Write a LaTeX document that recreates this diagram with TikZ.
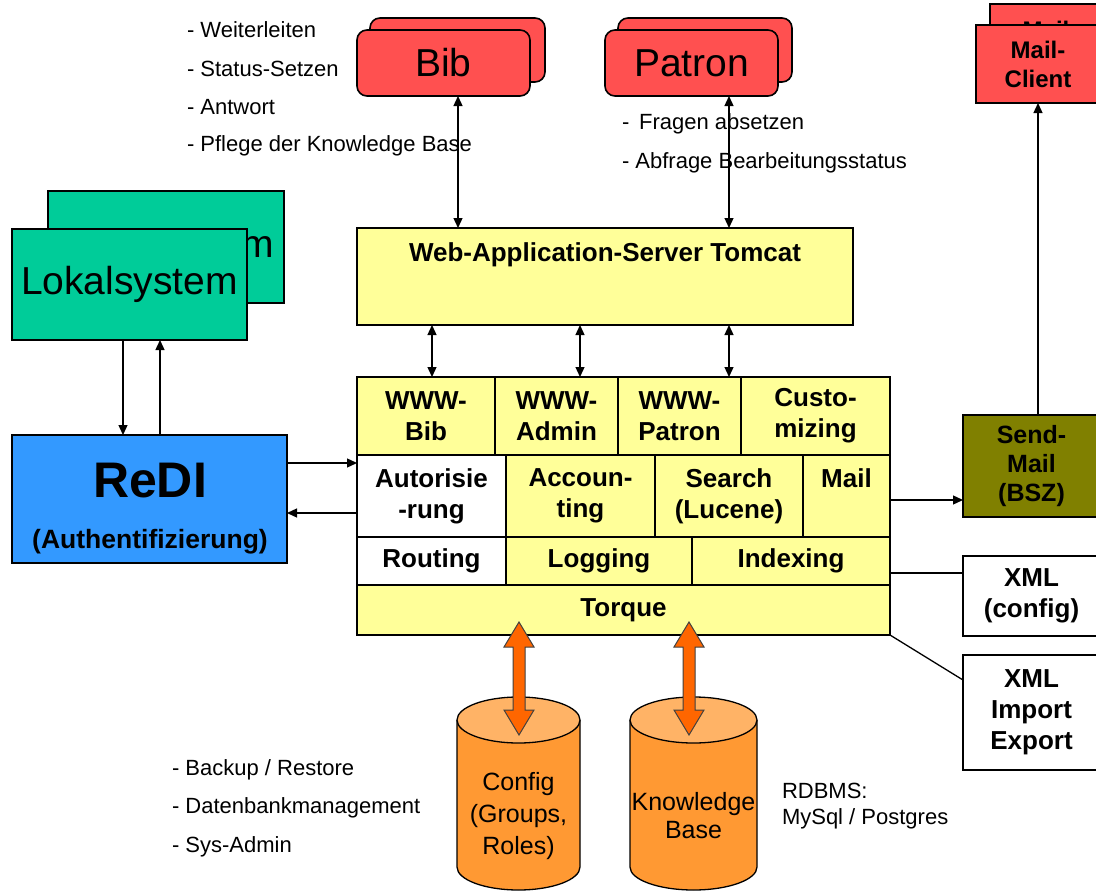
\documentclass[tikz,border=0pt]{standalone}
\usepackage{fontspec}
\setmainfont{Liberation Sans}
\usetikzlibrary{arrows.meta}
\definecolor{cRed}{RGB}{255,80,80}
\definecolor{cGreen}{RGB}{0,204,153}
\definecolor{cBlue}{RGB}{51,153,255}
\definecolor{cYel}{RGB}{255,255,153}
\definecolor{cOlive}{RGB}{128,128,0}
\definecolor{cOrange}{RGB}{255,153,51}
\definecolor{cOrangeTop}{RGB}{255,179,102}
\definecolor{cArrow}{RGB}{255,102,0}
\newcommand{\orangedbl}[3]{%
 \filldraw[fill=cArrow, draw=black!75, line width=1pt, line join=miter]
 (#1,#2) -- (#1+15,#2+25) -- (#1+6,#2+25) -- (#1+6,#3-25) -- (#1+15,#3-25) -- (#1,#3)
 -- (#1-15,#3-25) -- (#1-6,#3-25) -- (#1-6,#2+25) -- (#1-15,#2+25) -- cycle;}
\begin{document}
\begin{tikzpicture}[x=1pt,y=-1pt,
 every node/.style={inner sep=0pt, outer sep=0pt},
 bx/.style={draw=black, line width=1.6pt, align=center},
 rbox/.style={bx, fill=cRed, rounded corners=10pt, font=\fontsize{39}{44}\selectfont},
 gbox/.style={bx, fill=cGreen, font=\fontsize{39}{44}\selectfont},
 ybox/.style={bx, fill=cYel, font=\fontsize{26}{31}\selectfont\bfseries},
 wbox/.style={bx, fill=white, font=\fontsize{26}{31}\selectfont\bfseries},
 note/.style={anchor=west, align=left, font=\fontsize{22}{26}\selectfont},
 conn/.style={line width=1.3pt},
 arr/.style={conn, -{Triangle[length=10pt,width=9pt]}},
 darr/.style={conn, {Triangle[length=10pt,width=9pt]}-{Triangle[length=10pt,width=9pt]}},
]
\useasboundingbox (0,0) rectangle (1096,894);
\fill[white] (0,0) rectangle (1096,894);

% top red boxes
\node[rbox, minimum width=175pt, minimum height=64pt] (bibback) at (457.5,50) {};
\node[rbox, minimum width=173pt, minimum height=66pt] (bib) at (443.5,63) {Bib};
\node[rbox, minimum width=174pt, minimum height=64pt] (patback) at (705,50) {};
\node[rbox, minimum width=173pt, minimum height=66pt] (patron) at (691.5,63) {Patron};
\node[bx, fill=cRed, font=\fontsize{24}{29}\selectfont\bfseries, minimum width=120pt, minimum height=80pt] (mailback) at (1050,44) {Mail-\\Client};
\node[bx, fill=cRed, font=\fontsize{24}{29}\selectfont\bfseries, minimum width=124pt, minimum height=78pt] (mailclient) at (1038,64) {Mail-\\Client};

% notes
\node[note] (n1) at (187,30) {- Weiterleiten};
\node[note] (n2) at (187,69) {- Status-Setzen};
\node[note] (n3) at (187,107) {- Antwort};
\node[note] (n4) at (187,146) {- Pflege der Knowledge Base};
\node[note] (n5) at (622,124) {- \,Fragen absetzen};
\node[note] (n6) at (622,163) {- Abfrage Bearbeitungsstatus};
\node[note] (n7) at (172,770) {- Backup / Restore};
\node[note] (n8) at (172,808) {- Datenbankmanagement};
\node[note] (n9) at (172,847) {- Sys-Admin};
\node[note] (rdbms) at (782,806) {RDBMS:\\MySql / Postgres};

% Lokalsystem
\node[gbox, minimum width=236pt, minimum height=112pt] (lokback) at (166,247) {Lokalsystem};
\node[gbox, minimum width=235pt, minimum height=111pt] (lokal) at (129.5,284.5) {Lokalsystem};

% ReDI
\node[bx, fill=cBlue, minimum width=275pt, minimum height=128pt] (redi) at (149.5,499) {};
\node[font=\fontsize{50}{50}\selectfont\bfseries] (reditxt) at (150,481) {ReDI};
\node[font=\fontsize{26.5}{30}\selectfont\bfseries] (authtxt) at (150,542) {(Authentifizierung)};

% web server
\node[bx, fill=cYel, minimum width=496pt, minimum height=97pt] (ws) at (605,276.5) {};
\node[font=\fontsize{26}{30}\selectfont\bfseries] (wstxt) at (605,255) {Web-Application-Server Tomcat};

% component block
\node[ybox, minimum width=138pt, minimum height=78pt] (wwwbib) at (426,416) {WWW-\\Bib};
\node[ybox, minimum width=123pt, minimum height=78pt] (wwwadmin) at (556.5,416) {WWW-\\Admin};
\node[ybox, minimum width=123pt, minimum height=78pt] (wwwpatron) at (679.5,416) {WWW-\\Patron};
\node[ybox, minimum width=149pt, minimum height=78pt] (custom) at (815.5,416) {Custo-\\mizing};
\node[wbox, minimum width=149pt, minimum height=82pt] (autor) at (431.5,496) {Autorisie\\-rung};
\node[ybox, minimum width=149pt, minimum height=82pt] (account) at (580.5,496) {Accoun-\\ting};
\node[ybox, minimum width=148pt, minimum height=82pt] (search) at (729,496) {Search\\(Lucene)};
\node[ybox, minimum width=87pt, minimum height=82pt] (mail) at (846.5,496) {Mail\\\phantom{g}};
\node[wbox, minimum width=149pt, minimum height=48pt] (routing) at (431.5,561) {Routing};
\node[ybox, minimum width=186pt, minimum height=48pt] (logging) at (599,561) {Logging};
\node[ybox, minimum width=198pt, minimum height=48pt] (indexing) at (791,561) {Indexing};
\node[ybox, minimum width=533pt, minimum height=50pt] (torque) at (623.5,610) {Torque};

% right side boxes
\node[bx, fill=cOlive, font=\fontsize{25}{29}\selectfont\bfseries, minimum width=137pt, minimum height=102pt] (sendmail) at (1031.5,466) {Send-\\Mail\\(BSZ)};
\node[wbox, minimum width=137pt, minimum height=80pt] (xmlc) at (1031.5,596) {XML\\(config)};
\node[wbox, minimum width=137pt, minimum height=115pt] (xmlie) at (1031.5,712.5) {XML\\Import\\Export};

% cylinders
\filldraw[fill=cOrange, line width=1.3pt] (457,720) -- (457,867) arc[start angle=180,end angle=0,x radius=61.5,y radius=23] -- (580,720);
\filldraw[fill=cOrangeTop, line width=1.3pt] (518.5,720) ellipse[x radius=61.5, y radius=23];
\node[align=center, font=\fontsize{25}{32}\selectfont] (config) at (518.5,816) {Config\\(Groups,\\Roles)};
\filldraw[fill=cOrange, line width=1.3pt] (630,720) -- (630,867) arc[start angle=180,end angle=0,x radius=63.5,y radius=23] -- (757,720);
\filldraw[fill=cOrangeTop, line width=1.3pt] (693.5,720) ellipse[x radius=63.5, y radius=23];
\node[align=center, font=\fontsize{25}{28}\selectfont] (kb) at (693.5,816) {Knowledge\\Base};

\orangedbl{519}{622}{735}
\orangedbl{689}{622}{735}

% coordinates for connector x positions
\coordinate (xb) at (458,0);
\coordinate (xp) at (729,0);
\coordinate (x1) at (432,0);
\coordinate (x2) at (580,0);
\coordinate (x3) at (729,0);
\coordinate (xl1) at (123,0);
\coordinate (xl2) at (160,0);
\coordinate (xm) at (1038,0);
\coordinate (y1) at (0,463);
\coordinate (y2) at (0,513);
\coordinate (y3) at (0,500);
\coordinate (y4) at (0,573);
\coordinate (ie) at (963,680);

\draw[darr] (bib.south -| xb) -- (ws.north -| xb);
\draw[darr] (patron.south -| xp) -- (ws.north -| xp);
\draw[darr] (ws.south -| x1) -- (wwwbib.north -| x1);
\draw[darr] (ws.south -| x2) -- (wwwadmin.north -| x2);
\draw[darr] (ws.south -| x3) -- (wwwpatron.north -| x3);
\draw[arr] (lokal.south -| xl1) -- (redi.north -| xl1);
\draw[arr] (redi.north -| xl2) -- (lokal.south -| xl2);
\draw[arr] (y1 -| redi.east) -- (y1 -| wwwbib.west);
\draw[arr] (y2 -| autor.west) -- (y2 -| redi.east);
\draw[arr] (y3 -| mail.east) -- (y3 -| sendmail.west);
\draw[arr] (sendmail.north -| xm) -- (mailclient.south -| xm);
\draw[conn] (y4 -| indexing.east) -- (y4 -| xmlc.west);
\draw[conn] (torque.south east) -- (ie);
\end{tikzpicture}
\end{document}
